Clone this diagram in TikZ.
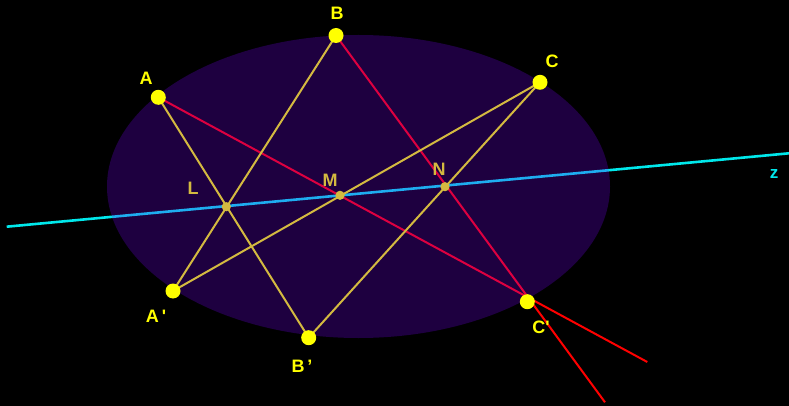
\documentclass[tikz,border=0pt]{standalone}
\usepackage{fontspec}
\setmainfont{Liberation Sans}
\definecolor{ptyellow}{RGB}{255,255,0}
\definecolor{olive}{RGB}{212,186,64}
\definecolor{zcyan}{RGB}{0,232,235}
\definecolor{purp}{RGB}{120,0,255}
\begin{document}
\begin{tikzpicture}[x=1pt,y=-1pt,
  lbl/.style={font=\bfseries\fontsize{18}{18}\selectfont, inner sep=0pt},
  ylbl/.style={lbl, text=ptyellow},
  olbl/.style={lbl, text=olive},
  redline/.style={draw=red, line width=2pt},
  yline/.style={draw=olive, line width=2pt},
  zline/.style={draw=zcyan, line width=2.6pt},
  bigpt/.style={fill=ptyellow},
  smallpt/.style={fill=olive}]
\fill[black] (0,0) rectangle (789,406);
\useasboundingbox (0,0) rectangle (789,406);
% points
\coordinate (A) at (158.3,97.3);
\coordinate (B) at (336,35.5);
\coordinate (C) at (540,82.3);
\coordinate (Ap) at (173,291);
\coordinate (Bp) at (308.7,337.7);
\coordinate (Cp) at (527.3,301.7);
\coordinate (L) at (226.3,206.7);
\coordinate (M) at (340,195.3);
\coordinate (N) at (445,186.7);
\coordinate (E1) at (647.3,362);
\coordinate (E2) at (605,402.3);
\coordinate (Z1) at (6.7,226.7);
\coordinate (Z2) at (789,153.3);
\coordinate (O) at (358.5,186.5);
% lines under the ellipse
\draw[zline] (Z1) -- (Z2);
\draw[redline] (A) -- (E1);
\draw[redline] (B) -- (E2);
% ellipse (translucent)
\fill[purp, fill opacity=0.25] (O) ellipse [x radius=251.5pt, y radius=151.5pt];
% yellow lines
\draw[yline] (A) -- (Bp);
\draw[yline] (B) -- (Ap);
\draw[yline] (C) -- (Ap);
\draw[yline] (C) -- (Bp);
% dots
\foreach \p in {A,B,C,Ap,Bp,Cp} \fill[bigpt] (\p) circle (7.5pt);
\foreach \p in {L,M,N} \fill[smallpt] (\p) circle (4.6pt);
% labels
\node[ylbl] (lA) at (146,78) {A};
\node[ylbl] (lB) at (337,13) {B};
\node[ylbl] (lC) at (552,61) {C};
\node[ylbl] (lAp) at (156,316) {A\,\textquotesingle};
\node[ylbl] (lBp) at (302,366) {B\,’};
\node[ylbl] (lCp) at (541,327) {C\textquotesingle};
\node[olbl] (lL) at (193,188) {L};
\node[olbl] (lM) at (330,180) {M};
\node[olbl] (lN) at (439,169) {N};
\node[lbl, text=zcyan, font=\bfseries\fontsize{17}{17}\selectfont] (lz) at (774,174) {z};
\end{tikzpicture}
\end{document}
